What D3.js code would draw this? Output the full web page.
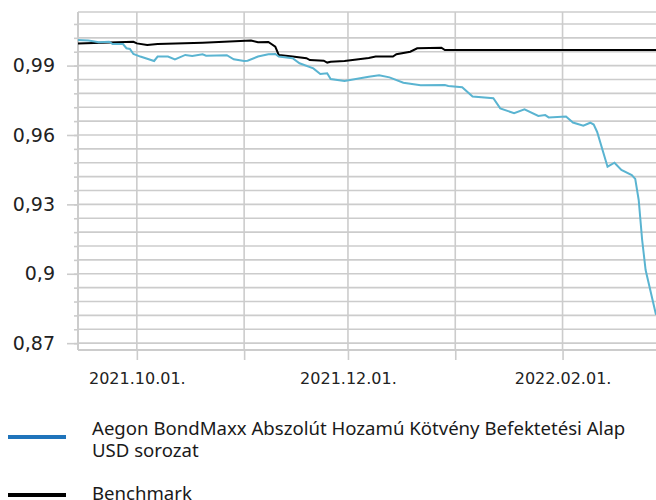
<!DOCTYPE html>
<html lang="hu">
<head>
<meta charset="UTF-8">
<script src="https://cdn.jsdelivr.net/npm/d3@7/dist/d3.min.js"></script>
<title>BondMaxx USD</title>
<style>
    body, html {
        margin: 0;
        padding: 0;
        background: #fff;
    }
    #chart {
        width: 656px;
        height: 500px;
    }
</style>
</head>
<body>
<div id="chart"></div>
<script>

// adatok
// alap (kék vonal)
const fundDates = ["2021-09-14","2021-09-17","2021-09-20","2021-09-23","2021-09-24","2021-09-27","2021-09-28","2021-09-29","2021-09-30",
    "2021-10-02","2021-10-06","2021-10-07","2021-10-10","2021-10-12","2021-10-15","2021-10-17","2021-10-20","2021-10-21","2021-10-27","2021-10-29",
    "2021-11-01","2021-11-02","2021-11-05","2021-11-08","2021-11-10","2021-11-11","2021-11-15","2021-11-17","2021-11-21","2021-11-23","2021-11-25","2021-11-26","2021-11-30",
    "2021-12-07","2021-12-10","2021-12-13","2021-12-17","2021-12-22","2021-12-29","2021-12-30",
    "2022-01-03","2022-01-06","2022-01-12","2022-01-14","2022-01-18","2022-01-21","2022-01-25","2022-01-27","2022-01-28",
    "2022-02-02","2022-02-04","2022-02-07","2022-02-09","2022-02-10","2022-02-11","2022-02-14","2022-02-16","2022-02-18","2022-02-21","2022-02-22","2022-02-23","2022-02-24","2022-02-25","2022-02-28"]
const fundValues = [1.0011, 1.0008, 1.0001, 1.0003, 0.9993, 0.9993, 0.9975, 0.9972, 0.9950,
    0.9939, 0.9920, 0.9939, 0.9939, 0.9927, 0.9946, 0.9942, 0.9949, 0.9943, 0.9945, 0.9927,
    0.9920, 0.9921, 0.9939, 0.9949, 0.9950, 0.9939, 0.9932, 0.9910, 0.9888, 0.9864, 0.9867, 0.9842, 0.9833,
    0.9852, 0.9858, 0.9849, 0.9826, 0.9815, 0.9816, 0.9812,
    0.9806, 0.9766, 0.9759, 0.9715, 0.9694, 0.9711, 0.9682, 0.9686, 0.9676,
    0.9680, 0.9654, 0.9640, 0.9653, 0.9645, 0.9613, 0.9463, 0.9480, 0.9449, 0.9427, 0.9410, 0.9319, 0.9146, 0.9016, 0.8823]

// benchmark (fekete vonal)
const benchDates = ["2021-09-14","2021-09-30","2021-10-01","2021-10-04","2021-10-07","2021-10-20","2021-11-03","2021-11-05","2021-11-08","2021-11-10","2021-11-11",
    "2021-11-15","2021-11-19","2021-11-20","2021-11-24","2021-11-25","2021-11-26","2021-11-30","2021-12-07","2021-12-09","2021-12-14","2021-12-15","2021-12-19","2021-12-21",
    "2021-12-28","2021-12-29","2022-02-28"]
const benchValues = [0.9996, 1.0003, 0.9996, 0.9989, 0.9993, 0.9999, 1.0008, 1.0001, 1.0002, 0.9982, 0.9946,
    0.9939, 0.9932, 0.9924, 0.9921, 0.9913, 0.9917, 0.9920, 0.9933, 0.9939, 0.9939, 0.9949, 0.9960, 0.9975,
    0.9977, 0.9967, 0.9967]

// tengelyfeliratok
const yTicks = [0.87, 0.9, 0.93, 0.96, 0.99]
const yTickLabels = ["0,87", "0,9", "0,93", "0,96", "0,99"]
const xLabelDates = ["2021-10-01", "2021-12-01", "2022-02-01"]
const xTickLabels = ["2021.10.01.", "2021.12.01.", "2022.02.01."]

// jelmagyarázat sorai
const seriesNames = [["Aegon BondMaxx Abszolút Hozamú Kötvény Befektetési Alap", "USD sorozat"], ["Benchmark"]]


const W = 656, H = 500
const mLeft = 78, mRight = 656, mTop = 12, mBottom = 350
const gridColor = "#cccccc"
const parse = d3.timeParse("%Y-%m-%d")

const svg = d3.select("#chart").append("svg").attr("width", W).attr("height", H)

const x = d3.scaleTime().domain([parse("2021-09-14"), parse("2022-02-28")]).range([mLeft, mRight])
const y = d3.scaleLinear().domain([0.86704, 1.01317]).range([mBottom, mTop])

// rácsvonalak
const minorTicks = d3.range(0, 24).map(i => +(0.87 + i * 0.006).toFixed(3))
const months = d3.timeMonth.range(parse("2021-10-01"), parse("2022-02-28"))

svg.append("g").selectAll("line").data(minorTicks).join("line")
    .attr("x1", mLeft).attr("x2", mRight).attr("y1", d => y(d)).attr("y2", d => y(d))
    .attr("stroke", gridColor).attr("stroke-width", 1.6)
svg.append("line").attr("x1", mLeft).attr("x2", mRight).attr("y1", mTop).attr("y2", mTop)
    .attr("stroke", gridColor).attr("stroke-width", 1.6)
svg.append("g").selectAll("line").data(months).join("line")
    .attr("x1", d => x(d)).attr("x2", d => x(d)).attr("y1", mTop).attr("y2", mBottom)
    .attr("stroke", gridColor).attr("stroke-width", 1.6)

// y tengely
const yMinor = svg.append("g").attr("transform", `translate(${mLeft},0)`)
    .call(d3.axisLeft(y).tickValues(minorTicks).tickSize(4).tickFormat(""))
const yAxis = svg.append("g").attr("transform", `translate(${mLeft},0)`)
    .call(d3.axisLeft(y).tickValues(yTicks).tickSize(11).tickPadding(12)
        .tickFormat(d => yTickLabels[yTicks.indexOf(d)]))

// x tengely
const xAxis = svg.append("g").attr("transform", `translate(0,${mBottom})`)
    .call(d3.axisBottom(x).tickValues(months).tickSize(10).tickPadding(13)
        .tickFormat(d => {
            let i = xLabelDates.indexOf(d3.timeFormat("%Y-%m-%d")(d))
            return i < 0 ? "" : xTickLabels[i]
        }))

;[yMinor, yAxis, xAxis].forEach(g => {
    g.select(".domain").remove()
    g.selectAll(".tick line").attr("stroke", gridColor).attr("stroke-width", 1.6)
})
yAxis.selectAll("text").attr("font-family", "'DejaVu Sans'").attr("font-size", 19).attr("fill", "#222")
xAxis.selectAll("text").attr("font-family", "'DejaVu Sans'").attr("font-size", 16).attr("fill", "#222")

svg.append("line").attr("x1", mLeft).attr("x2", mLeft).attr("y1", mTop).attr("y2", mBottom)
    .attr("stroke", gridColor).attr("stroke-width", 2)
svg.append("line").attr("x1", mLeft).attr("x2", mRight).attr("y1", mBottom).attr("y2", mBottom)
    .attr("stroke", gridColor).attr("stroke-width", 2)

// vonalak
const line = d3.line().x(d => x(d[0])).y(d => y(d[1]))
const benchData = benchDates.map((d, i) => [parse(d), benchValues[i]])
const fundData = fundDates.map((d, i) => [parse(d), fundValues[i]])

svg.append("path").datum(benchData).attr("d", line)
    .attr("fill", "none").attr("stroke", "#000").attr("stroke-width", 2)
svg.append("path").datum(fundData).attr("d", line)
    .attr("fill", "none").attr("stroke", "#5ab4d1").attr("stroke-width", 2)

// jelmagyarázat
const legendColors = ["#1f74bb", "#000"]
const legendY = [437, 495]
seriesNames.forEach((rows, i) => {
    svg.append("line").attr("x1", 8).attr("x2", 66).attr("y1", legendY[i]).attr("y2", legendY[i])
        .attr("stroke", legendColors[i]).attr("stroke-width", 4)
    // sorok függőlegesen a vonalhoz igazítva
    let base = legendY[i] + 5 - (rows.length - 1) * 7
    rows.forEach((row, j) => {
        svg.append("text").attr("x", 92).attr("y", base + j * 22)
            .attr("font-family", "'Noto Sans'").attr("font-size", 18.6).attr("fill", "#1a1a1a")
            .text(row)
    })
})

</script>
</body>
</html>
